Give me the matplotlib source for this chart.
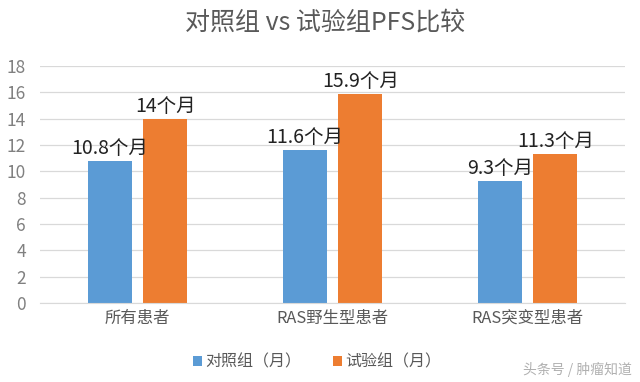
import numpy as np
import matplotlib
matplotlib.use("Agg")
import matplotlib.pyplot as plt

plt.rcParams['font.family'] = ['Noto Sans CJK SC', 'DejaVu Sans']

categories = ["所有患者", "RAS野生型患者", "RAS突变型患者"]
control = [10.8, 11.6, 9.3]
trial = [14, 15.9, 11.3]
control_labels = ["10.8个月", "11.6个月", "9.3个月"]
trial_labels = ["14个月", "15.9个月", "11.3个月"]
series_names = ["对照组（月）", "试验组（月）"]

blue = "#5B9BD5"
orange = "#ED7D31"

fig = plt.figure(figsize=(6.4, 3.82), dpi=100)
ax = fig.add_axes([0.0625, 0.207, 0.914, 0.62])

x = np.arange(len(categories))
w = 0.225
gap = 0.03
b1 = ax.bar(x - w / 2 - gap, control, w, color=blue, label=series_names[0], zorder=2)
b2 = ax.bar(x + w / 2 + gap, trial, w, color=orange, label=series_names[1], zorder=2)

for bars, labels in ((b1, control_labels), (b2, trial_labels)):
    for bar, lab in zip(bars, labels):
        ax.text(bar.get_x() + bar.get_width() / 2, bar.get_height() + 0.15, lab,
                ha="center", va="bottom", fontsize=14, color="#222222", zorder=3)

ax.set_xlim(-0.5, 2.5)
ax.set_ylim(0, 18)
ax.set_yticks(range(0, 19, 2))
ax.set_xticks(x)
ax.set_xticklabels(categories, fontsize=11.8, color="#595959")
ax.tick_params(axis="y", labelsize=12.5, colors="#808080", length=0, pad=10)
ax.tick_params(axis="x", length=0, pad=5)
ax.grid(axis="y", color="#D9D9D9", linewidth=0.9, zorder=0)
for s in ("top", "right", "left"):
    ax.spines[s].set_visible(False)
ax.spines["bottom"].set_color("#D9D9D9")

fig.suptitle("对照组 vs 试验组PFS比较", x=0.508, y=0.975, fontsize=18, color="#595959")

fig.legend(handles=[b1, b2], loc="center", bbox_to_anchor=(0.495, 0.052), ncol=2,
           frameon=False, fontsize=11.5, handlelength=0.55, handleheight=0.55,
           handletextpad=0.2, columnspacing=2.0, labelcolor="#595959")

fig.text(0.988, 0.032, "头条号 / 肿瘤知道", ha="right", va="center",
         fontsize=10, color="#B0B0B0")

fig.savefig("out.png", dpi=100, facecolor="white")
